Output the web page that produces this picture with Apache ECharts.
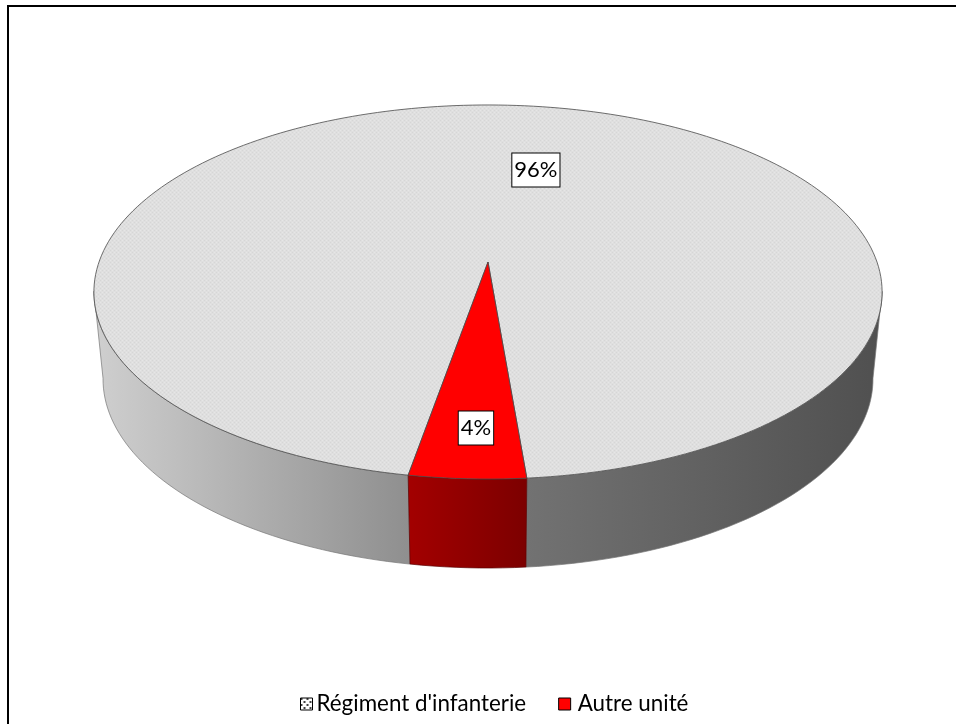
<!DOCTYPE html>
<html><head><meta charset="utf-8">
<style>html,body{margin:0;padding:0;background:#fff}#c{width:956px;height:724px}</style>
<script src="https://cdn.jsdelivr.net/npm/echarts@6/dist/echarts.min.js"></script>
</head><body><div id="c"></div>
<script>
const categories = ["Régiment d'infanterie", "Autre unité"];
const shareValues = [95.9, 4.1];
const percentLabels = ["96%", "4%"];

const firstSliceAngle = 189.95, frontLimit = 81;
const persp = 0.1604, topRim = {k:389, a:140.2, b:262}, lowRim = {k:380, a:128.2, b:348.7}, cx = 488;
const labelSpots = [[0.134,-0.549],[-0.027,0.795]];

function project(rim, x, z){ const w = 1 - persp*z; return [cx + rim.k*x/w, (rim.a*z + rim.b)/w]; }
function rimPt(rim, deg){ const r = deg*Math.PI/180; return project(rim, Math.sin(r), -Math.cos(r)); }
function sweep(a, b){ const out=[]; const n=Math.max(2,Math.ceil((b-a)/1.5)); for(let i=0;i<=n;i++) out.push(a+(b-a)*i/n); return out; }

function texture(){
  const c=document.createElement('canvas'); c.width=4; c.height=4;
  const g=c.getContext('2d'); g.fillStyle='#dfdfdf'; g.fillRect(0,0,4,4);
  g.fillStyle='#d6d6d6'; g.fillRect(0,0,1,1); g.fillRect(2,2,1,1);
  g.fillStyle='#e6e6e6'; g.fillRect(2,0,1,1); g.fillRect(0,2,1,1);
  return c;
}
function legendTexture(){
  const c=document.createElement('canvas'); c.width=6; c.height=6;
  const g=c.getContext('2d'); g.fillStyle='#fff'; g.fillRect(0,0,6,6);
  g.fillStyle='#444'; g.fillRect(0,0,2,2); g.fillRect(3,3,2,2);
  return c;
}
const topFill = {image:texture(), repeat:'repeat'};
const total = shareValues.reduce((s,v)=>s+v,0);
const wallGrey = new echarts.graphic.LinearGradient(95,0,880,0,[
  {offset:0,color:'#cfcfcf'},{offset:0.4,color:'#8f8f8f'},{offset:0.55,color:'#727272'},{offset:1,color:'#505050'}],true);
const wallRed = new echarts.graphic.LinearGradient(408,0,527,0,[
  {offset:0,color:'#a30000'},{offset:1,color:'#7c0000'}],true);
const faces = [topFill, '#ff0000'];
const walls = [wallGrey, wallRed];

function makeRender(idx){
  return function(){
    const before = shareValues.slice(0,idx).reduce((s,v)=>s+v,0);
    const a = firstSliceAngle + before/total*360, b = a + shareValues[idx]/total*360;
    const kids=[];
    [[180-frontLimit,180+frontLimit],[540-frontLimit,540+frontLimit]].forEach(([lo,hi])=>{
      const s=Math.max(a,lo), e=Math.min(b,hi);
      if(e>s){
        const ang=sweep(s,e);
        const pts=ang.map(t=>rimPt(topRim,t)).concat(ang.slice().reverse().map(t=>rimPt(lowRim,t)));
        kids.push({type:'polygon',shape:{points:pts},style:{fill:walls[idx],stroke:idx?'#5a0000':'#777',lineWidth:0.7}});
      }
    });
    const face=[project(topRim,0,0)].concat(sweep(a,b).map(t=>rimPt(topRim,t)));
    kids.push({type:'polygon',shape:{points:face},style:{fill:faces[idx],stroke:'#4a4a4a',lineWidth:0.8}});
    const p=project(topRim,labelSpots[idx][0],labelSpots[idx][1]);
    kids.push({type:'text',x:p[0],y:p[1],z2:10,style:{text:percentLabels[idx],fill:'#000',font:'22px Lato',align:'center',verticalAlign:'middle',
      backgroundColor:'#fff',borderColor:'#000',borderWidth:1,padding:[6,2,5,2]}});
    return {type:'group',children:kids};
  };
}

const chart = echarts.init(document.getElementById('c'),null,{renderer:'canvas'});
chart.setOption({
  animation:false,
  backgroundColor:'#fff',
  graphic:[
    {type:'line',shape:{x1:7,y1:6,x2:956,y2:6},style:{stroke:'#000',lineWidth:2},silent:true},
    {type:'line',shape:{x1:8,y1:5,x2:8,y2:724},style:{stroke:'#000',lineWidth:2},silent:true}
  ],
  legend:{
    left:295, top:688, itemWidth:12, itemHeight:12, itemGap:32,
    icon:'rect',
    textStyle:{fontFamily:'Lato',fontSize:22.4,color:'#000',padding:[0,0,0,-1]},
    data:[
      {name:categories[0],itemStyle:{color:{image:legendTexture(),repeat:'repeat'},borderColor:'#000',borderWidth:1}},
      {name:categories[1],itemStyle:{color:'#ff0000',borderColor:'#000',borderWidth:1},textStyle:{fontFamily:'Lato',fontSize:22.4,color:'#000',padding:[0,0,0,2]}}
    ]
  },
  series: categories.map((name,i)=>({
    type:'custom', name, coordinateSystem:'none', silent:true,
    itemStyle:{color:i?'#ff0000':'#e0e0e0'},
    data:[shareValues[i]], renderItem:makeRender(i), clip:false
  }))
});
</script></body></html>
